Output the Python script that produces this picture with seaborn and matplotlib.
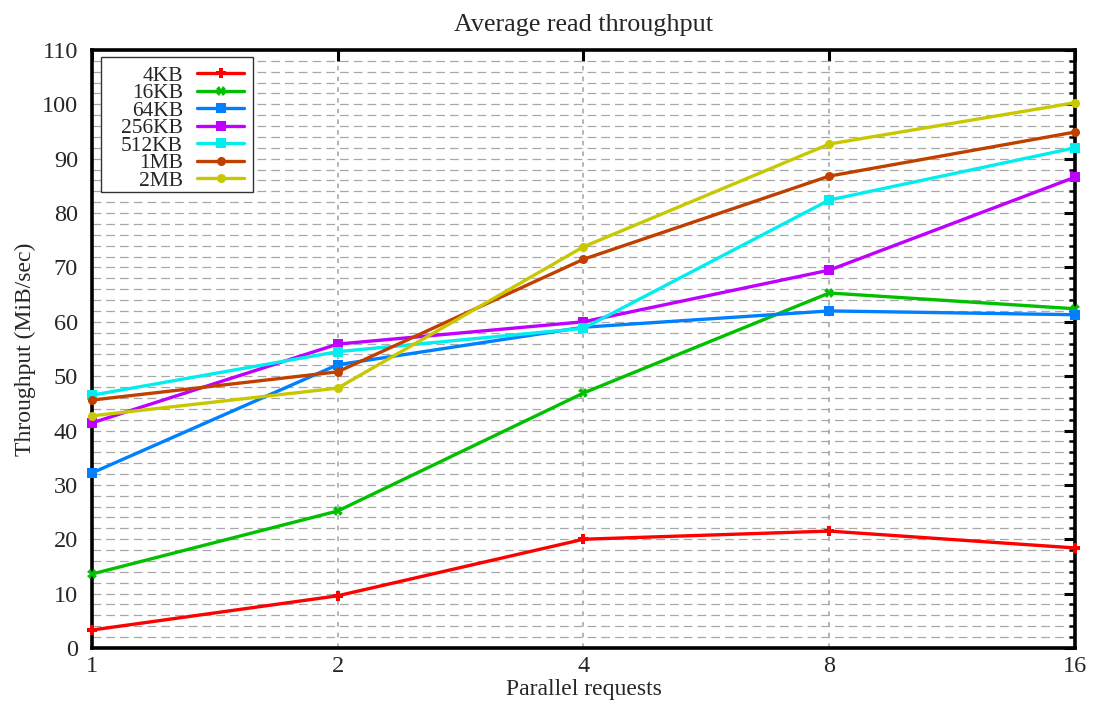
import matplotlib
matplotlib.use("Agg")
import matplotlib.pyplot as plt
from matplotlib.patches import Rectangle
from matplotlib.ticker import FixedLocator, MultipleLocator, NullLocator, FixedFormatter
import seaborn as sns
import pandas as pd

# Parallel request counts
requests = [1, 2, 4, 8, 16]

# Average read throughput (MiB/sec) per block size
sizes = ["4KB", "16KB", "64KB", "256KB", "512KB", "1MB", "2MB"]
tp_4kb = [3.3, 9.6, 20.0, 21.5, 18.4]
tp_16kb = [13.6, 25.2, 46.9, 65.3, 62.4]
tp_64kb = [32.2, 52.1, 59.0, 62.0, 61.3]
tp_256kb = [41.4, 55.9, 60.0, 69.5, 86.6]
tp_512kb = [46.5, 54.5, 58.8, 82.4, 92.0]
tp_1mb = [45.6, 50.8, 71.5, 86.8, 94.9]
tp_2mb = [42.7, 47.8, 73.8, 92.7, 100.3]
series = [tp_4kb, tp_16kb, tp_64kb, tp_256kb, tp_512kb, tp_1mb, tp_2mb]

colors = ["#ff0000", "#00c000", "#0080ff", "#c000ff", "#00eeee", "#c04000", "#c8c800"]
markers = ["P", "X", "s", "s", "s", "o", "o"]

rows = []
for name, vals in zip(sizes, series):
    for x, y in zip(requests, vals):
        rows.append({"requests": x, "throughput": y, "size": name})
df = pd.DataFrame(rows)

sns.set_theme(style="white")
plt.rcParams["font.family"] = ["Liberation Serif", "DejaVu Serif"]
plt.rcParams["axes.unicode_minus"] = False

fig = plt.figure(figsize=(10.95, 7.06), dpi=100)
ax = fig.add_axes([0.084, 0.0822, 0.8977, 0.847])

sns.lineplot(
    data=df, x="requests", y="throughput", hue="size", style="size",
    hue_order=sizes, style_order=sizes,
    palette=dict(zip(sizes, colors)),
    markers=dict(zip(sizes, markers)), dashes=False,
    linewidth=2.4, markersize=6.5, markeredgewidth=0,
    ax=ax, legend="full", clip_on=False, zorder=3,
)

ax.set_xscale("log", base=2)
ax.set_xlim(1, 16)
ax.set_ylim(0, 110)
ax.xaxis.set_major_locator(FixedLocator(requests))
ax.xaxis.set_major_formatter(FixedFormatter([str(r) for r in requests]))
ax.xaxis.set_minor_locator(NullLocator())
ax.yaxis.set_major_locator(MultipleLocator(10))
ax.yaxis.set_minor_locator(MultipleLocator(2))

ax.grid(True, which="both", axis="y", color="#a8a8a8", linestyle=(0, (7, 4)), linewidth=0.9)
ax.grid(True, which="major", axis="x", color="#a0a0a0", linestyle=(0, (3, 4)), linewidth=1.1)
ax.set_axisbelow(True)

for s in ax.spines.values():
    s.set_visible(True)
    s.set_color("black")
    s.set_linewidth(2.6)

ax.tick_params(which="both", direction="in", color="black", top=True, right=True,
               labelsize=17.5)
ax.tick_params(axis="y", pad=10)
ax.tick_params(axis="x", pad=6)
ax.tick_params(which="major", length=8, width=2.2)
ax.tick_params(which="minor", length=4, width=1.8)

ax.set_title("Average read throughput", fontsize=18.8, pad=14)
ax.set_xlabel("Parallel requests", fontsize=17, labelpad=1)
ax.set_ylabel("Throughput (MiB/sec)", fontsize=17, labelpad=4)

# Key box (white, thin dark border) with the key entries right-aligned inside
box_x0, box_x1, box_y0, box_y1 = 0.0092, 0.1638, 0.7625, 0.9883
ax.add_patch(Rectangle((box_x0, box_y0), box_x1 - box_x0, box_y1 - box_y0,
                       transform=ax.transAxes, facecolor="white", edgecolor="#333333",
                       linewidth=1.0, zorder=4))
leg = ax.legend(loc="upper right", bbox_to_anchor=(box_x1, box_y1), markerfirst=False,
                fontsize=15.5, frameon=False, borderpad=0.4, labelspacing=-0.12,
                handlelength=2.2, handletextpad=0.65, borderaxespad=0.0)
leg.set_zorder(5)

fig.savefig("out.png", dpi=100)
